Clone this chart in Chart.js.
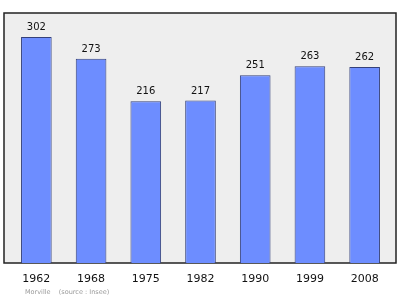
<!DOCTYPE html>
<html>
<head>
<meta charset="utf-8">
<script src="https://cdn.jsdelivr.net/npm/chart.js@4"></script>
<style>
  html, body { margin: 0; padding: 0; background: #fff; }
  #wrap { width: 400px; height: 299px; }
</style>
</head>
<body>
<div id="wrap"><canvas id="pop" width="400" height="299"></canvas></div>
<script>
// données : population de Morville par recensement
const annees = ['1962', '1968', '1975', '1982', '1990', '1999', '2008'];
const population = [302, 273, 216, 217, 251, 263, 262];
const footerText = 'Morville    (source : Insee)';

// fond gris + cadre noir autour de la zone du graphique
const cadre = {
    id: 'cadre',
    beforeDraw(chart) {
        const a = chart.chartArea;
        const c = chart.ctx;
        c.save();
        c.fillStyle = '#eeeeee';
        c.fillRect(a.left - 5, a.top, a.right - a.left + 9, a.bottom - a.top);
        c.strokeStyle = '#222';
        c.lineWidth = 1.5;
        c.strokeRect(a.left - 5, a.top, a.right - a.left + 9, a.bottom - a.top);
        c.restore();
    },
    afterDraw(chart) {
        const c = chart.ctx;
        c.save();
        // valeurs au-dessus des barres
        c.font = '10px "DejaVu Sans"';
        c.fillStyle = '#111';
        c.textAlign = 'center';
        c.textBaseline = 'alphabetic';
        chart.getDatasetMeta(0).data.forEach((bar, i) => {
            c.fillText(population[i], bar.x, bar.y - 7);
        });
        // source
        c.font = '6.5px "DejaVu Sans"';
        c.fillStyle = '#999';
        c.textAlign = 'left';
        c.textBaseline = 'middle';
        c.fillText(footerText, 25, 292);
        c.restore();
    }
};

new Chart(document.getElementById('pop').getContext('2d'), {
    type: 'bar',
    data: {
        labels: annees,
        datasets: [{
            data: population,
            backgroundColor: '#6d8dff',
            borderColor: '#34407a',
            borderWidth: 1,
            categoryPercentage: 0.56,
            barPercentage: 1
        }]
    },
    options: {
        responsive: false,
        animation: false,
        layout: { padding: { top: 13, left: 9, right: 8, bottom: 14 } },
        scales: {
            x: {
                grid: { display: false },
                border: { display: false },
                ticks: {
                    color: '#111',
                    font: { family: 'DejaVu Sans', size: 11 },
                    padding: 2,
                    maxRotation: 0
                },
                afterFit(scale) { scale.height = 22; }
            },
            y: {
                display: false,
                min: 0,
                max: 334
            }
        },
        plugins: {
            legend: { display: false },
            tooltip: { enabled: false }
        }
    },
    plugins: [cadre]
});
</script>
</body>
</html>
